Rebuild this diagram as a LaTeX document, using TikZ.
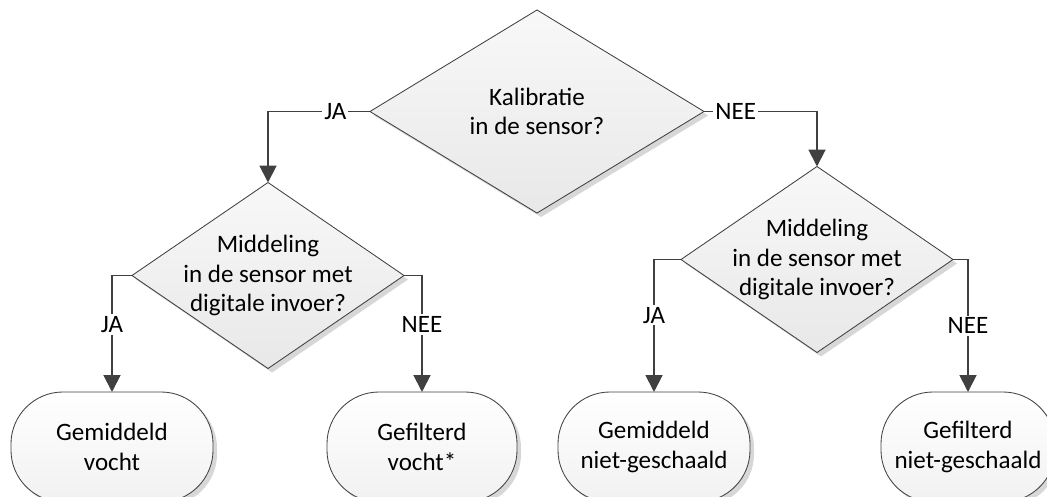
\documentclass[tikz,border=0pt]{standalone}
\usepackage{fontspec}
\setmainfont{Carlito}
\usepackage{tikz}
\usetikzlibrary{shapes.geometric, arrows.meta, shadows}
\definecolor{fcdark}{RGB}{64,64,64}
\definecolor{fctop}{RGB}{248,248,248}
\definecolor{fcbottom}{RGB}{232,232,232}
\definecolor{fcshadow}{RGB}{215,215,215}

\begin{document}
\begin{tikzpicture}[x=0.025cm, y=-0.025cm,
  keuze/.style={diamond, draw=fcdark, line width=0.6pt, top color=fctop, bottom color=fcbottom,
    inner sep=-0.4cm, outer sep=0pt, align=center, drop shadow={shadow xshift=0.1cm, shadow yshift=-0.1cm, fill=fcshadow, opacity=1}},
  einde/.style={rectangle, rounded corners=1.3cm, draw=fcdark, line width=0.6pt, top color=white, bottom color=fcbottom!60,
    minimum height=2.75cm, outer sep=0pt, align=center, drop shadow={shadow xshift=0.1cm, shadow yshift=-0.1cm, fill=fcshadow, opacity=1}},
  lbl/.style={fill=white, inner sep=1.5pt},
  arr/.style={-{Triangle[length=0.42cm, width=0.42cm]}, line width=1.4pt, draw=fcdark},
  font=\fontsize{17.8pt}{21pt}\selectfont
]
\clip (0,0) rectangle (1047,496);
\node[keuze, minimum width=8.35cm, minimum height=5.075cm] (kal) at (537,111.5) {Kalibratie\\in de sensor?};
\node[keuze, minimum width=6.8cm, minimum height=4.375cm] (midL) at (268,275.5) {Middeling\\in de sensor met\\digitale invoer?};
\node[keuze, minimum width=6.8cm, minimum height=4.375cm] (midR) at (817,259.5) {Middeling\\in de sensor met\\digitale invoer?};
\node[einde, minimum width=5.05cm] (gemV) at (112,447) {Gemiddeld\\vocht};
\node[einde, minimum width=4.75cm] (gefV) at (422,447) {Gefilterd\\vocht*};
\node[einde, minimum width=4.8cm] (gemN) at (654,447) {Gemiddeld\\niet-geschaald};
\node[einde, minimum width=4.35cm] (gefN) at (968,447) {Gefilterd\\niet-geschaald};
\draw[arr] (kal.west) -| node[lbl, pos=0.17] {JA} (midL.north);
\draw[arr] (kal.east) -| node[lbl, pos=0.14] {NEE} (midR.north);
\draw[arr] (midL.west) -| node[lbl, pos=0.71] {JA} (gemV.north);
\draw[arr] (midL.east) -| node[lbl, pos=0.71] {NEE} (gefV.north);
\draw[arr] (midR.west) -| node[lbl, pos=0.71] {JA} (gemN.north);
\draw[arr] (midR.east) -| node[lbl, pos=0.75] {NEE} (gefN.north);
\end{tikzpicture}
\end{document}
